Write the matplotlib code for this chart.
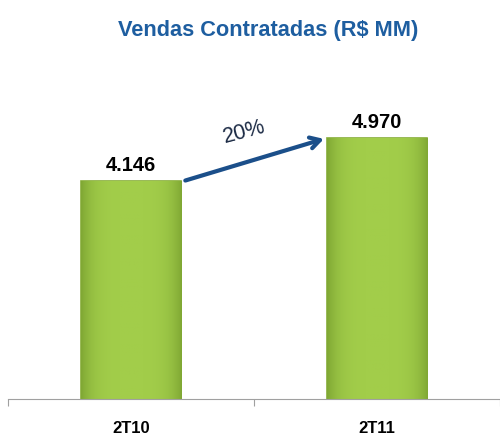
import matplotlib
matplotlib.use("Agg")
import matplotlib.pyplot as plt
import numpy as np

categories = ["2T10", "2T11"]
values = [4146, 4970]
value_labels = ["4.146", "4.970"]
growth_label = "20%"
title = "Vendas Contratadas (R$ MM)"

plt.rcParams['font.family'] = ['Liberation Sans', 'DejaVu Sans']

fig = plt.figure(figsize=(5.0, 4.37), dpi=100)
ax = fig.add_axes([0.016, 0.087, 0.984, 0.7208])

x = np.arange(len(categories))
bw = 0.41
bars = ax.bar(x, values, width=bw, color="#9DC843", edgecolor="#86AD38", linewidth=1.2, zorder=2)

# subtle bevel/gradient effect
cmap = matplotlib.colors.LinearSegmentedColormap.from_list("g", ["#80A834", "#A2CD4A"])
for b in bars:
    bx, by = b.get_x(), b.get_y()
    w, h = b.get_width(), b.get_height()
    grad = np.linspace(0, 1, 100)
    prof = 1 - 0.25 * (np.abs(grad - 0.5) * 2) ** 4
    img = np.outer(np.ones(10), prof)
    ax.imshow(img, extent=[bx, bx + w, by, by + h], aspect='auto', cmap=cmap,
              vmin=0.75, vmax=1.0, zorder=2.5, clip_on=True)

ax.set_xlim(-0.5, 1.5)
ax.set_ylim(0, 6000)

for xi, v, lab in zip(x, values, value_labels):
    ax.text(xi, v + 300, lab, ha='center', va='center', fontsize=14.5, fontweight='bold', color='black')

# growth arrow
x0, y0 = x[0] + bw / 2 + 0.005, values[0]
x1, y1 = x[1] - bw / 2, values[1]
ax.annotate("", xy=(x1, y1), xytext=(x0, y0),
            arrowprops=dict(arrowstyle="->,head_length=0.7,head_width=0.4", color="#1B4F8A", lw=3), zorder=3)
ax.text((x0 + x1) / 2 - 0.04, (y0 + y1) / 2 + 530, growth_label, ha='center', va='center',
        fontsize=15.5, rotation=15, color='#1C2B45')

for s in ['top', 'right', 'left']:
    ax.spines[s].set_visible(False)
ax.spines['bottom'].set_color('#A0A0A0')
ax.set_yticks([])
ax.set_xticks([-0.5, 0.5, 1.5])
ax.set_xticklabels([])
ax.tick_params(axis='x', length=5, color='#A0A0A0', direction='out')
for xi, c in zip(x, categories):
    ax.text(xi, -0.095, c, transform=ax.get_xaxis_transform(), ha='center', va='center',
            fontsize=12, fontweight='bold')

fig.text(0.536, 0.93, title, ha='center', va='center', fontsize=15.7, fontweight='bold', color='#1E5EA0')

fig.savefig("out.png", dpi=100)
